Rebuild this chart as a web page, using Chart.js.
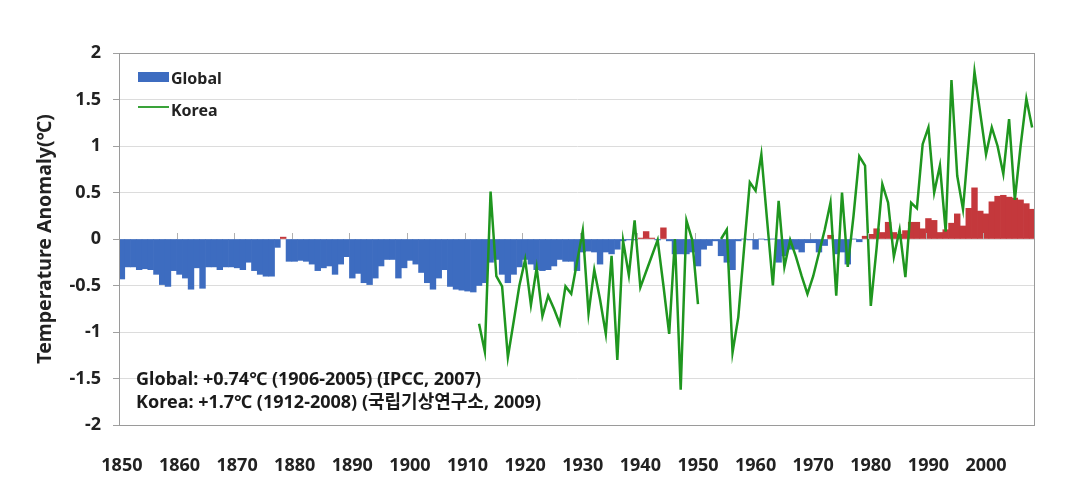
<!DOCTYPE html>
<html>
<head>
<meta charset="utf-8">
<script src="https://cdn.jsdelivr.net/npm/chart.js@4.4.1/dist/chart.umd.min.js"></script>
<style>
  body { margin: 0; background: #fff; }
  canvas { display: block; }
</style>
</head>
<body>
<canvas id="chart" width="1076" height="489"></canvas>
<script>
// years 1850..2008
var years = [];
for (var y = 1850; y <= 2008; y += 1) {
  years.push(String(y));
}

// global annual anomaly (bars)
var global_anom = [
  -0.43,-0.30,-0.30,-0.33,-0.32,-0.33,-0.38,-0.49,-0.51,-0.34, // 1850
  -0.38,-0.42,-0.54,-0.31,-0.53,-0.30,-0.30,-0.33,-0.30,-0.30, // 1860
  -0.31,-0.33,-0.25,-0.34,-0.38,-0.40,-0.40,-0.09, 0.02,-0.24, // 1870
  -0.24,-0.23,-0.24,-0.27,-0.34,-0.31,-0.29,-0.38,-0.27,-0.19, // 1880
  -0.42,-0.37,-0.47,-0.49,-0.42,-0.29,-0.22,-0.22,-0.42,-0.31, // 1890
  -0.23,-0.27,-0.36,-0.47,-0.54,-0.42,-0.33,-0.51,-0.54,-0.55, // 1900
  -0.56,-0.57,-0.50,-0.47,-0.25,-0.22,-0.38,-0.47,-0.38,-0.30, // 1910
  -0.22,-0.27,-0.33,-0.34,-0.33,-0.29,-0.22,-0.24,-0.24,-0.34, // 1920
  -0.14,-0.13,-0.14,-0.27,-0.14,-0.16,-0.11,-0.02,-0.01,-0.01, // 1930
   0.01, 0.08, 0.01,-0.01, 0.12,-0.02,-0.16,-0.16,-0.16,-0.14, // 1940
  -0.29,-0.11,-0.07,-0.02,-0.18,-0.25,-0.33,-0.02, 0.00,-0.01, // 1950
  -0.11, 0.00,-0.01, 0.00,-0.25,-0.18,-0.11,-0.11,-0.14,-0.04, // 1960
  -0.04,-0.14,-0.07, 0.04,-0.16,-0.14,-0.27, 0.00,-0.03, 0.03, // 1970
   0.05, 0.11, 0.07, 0.18, 0.07, 0.05, 0.09, 0.18, 0.18, 0.11, // 1980
   0.22, 0.20, 0.07, 0.10, 0.17, 0.27, 0.14, 0.33, 0.55, 0.30, // 1990
   0.27, 0.40, 0.46, 0.47, 0.45, 0.44, 0.42, 0.38, 0.32        // 2000
];

// Korea annual anomaly (line), 1912..2008, gap 1951-1953
var korea_start = 1912;
var korea_anom = [
  -0.91,-1.21, 0.51,-0.40,-0.51,-1.27,-0.89,-0.50,            // 1912
  -0.22,-0.71,-0.31,-0.83,-0.61,-0.75,-0.91,-0.51,-0.59,-0.25, // 1920
   0.09,-0.80,-0.33,-0.65,-1.02,-0.18,-1.30,-0.02,-0.39, 0.20, // 1930
  -0.52,-0.35,-0.18,-0.01,-0.50,-1.02, 0.00,-1.62, 0.20,-0.01, // 1940
  -0.70, null, null, null, 0.00, 0.10,-1.22,-0.84,-0.10, 0.61, // 1950
   0.52, 0.91, 0.20,-0.50, 0.41,-0.30,-0.01,-0.19,-0.40,-0.59, // 1960
  -0.40,-0.15, 0.10, 0.39,-0.61, 0.50,-0.30, 0.25, 0.89, 0.79, // 1970
  -0.72,-0.10, 0.59, 0.39,-0.19, 0.10,-0.41, 0.39, 0.33, 1.02, // 1980
   1.20, 0.50, 0.79, 0.08, 1.71, 0.68, 0.32, 1.05, 1.80, 1.35, // 1990
   0.91, 1.20, 1.00, 0.70, 1.29, 0.42, 1.00, 1.51, 1.20        // 2000
];

var y_ticks = [2, 1.5, 1, 0.5, 0, -0.5, -1, -1.5, -2];
var notes = [
  'Global: +0.74\u2103 (1906-2005) (IPCC, 2007)',
  'Korea: +1.7\u2103 (1912-2008) (\uAD6D\uB9BD\uAE30\uC0C1\uC5F0\uAD6C\uC18C, 2009)'
];

var korea_full = years.map(function(yr) {
  var k = Number(yr) - korea_start;
  return k >= 0 ? korea_anom[k] : null;
});

var blue = '#3d6cc0';
var red = '#c4383c';
var green = '#1f961f';
var font_family = "'Noto Sans', 'Noto Sans CJK KR', sans-serif";
Chart.defaults.font.family = font_family;

// box round the plot, small ticks on the zero line, legend and notes
var extras = {
  id: 'extras',
  afterDatasetsDraw: function(chart) {
    var ctx = chart.ctx;
    var a = chart.chartArea;
    var xs = chart.scales.x;
    var ys = chart.scales.y;
    ctx.save();
    // ticks on zero line every 10 years
    var y0 = ys.getPixelForValue(0);
    ctx.strokeStyle = '#b0b0b0';
    ctx.lineWidth = 1;
    for (var i = 10; i < years.length; i += 10) {
      var px = Math.round((xs.getPixelForValue(i - 1) + xs.getPixelForValue(i)) / 2) + 0.5;
      ctx.beginPath();
      ctx.moveTo(px, y0 - 6);
      ctx.lineTo(px, y0);
      ctx.stroke();
    }
    // frame
    ctx.strokeStyle = '#9a9a9a';
    ctx.strokeRect(a.left + 0.5, a.top + 0.5, a.right - a.left - 1, a.bottom - a.top);
    // legend
    var lx = a.left + 19;
    ctx.fillStyle = blue;
    ctx.fillRect(lx, a.top + 19, 31, 10);
    ctx.strokeStyle = '#3aa33a';
    ctx.lineWidth = 2;
    ctx.beginPath();
    ctx.moveTo(lx, a.top + 54);
    ctx.lineTo(lx + 31, a.top + 54);
    ctx.stroke();
    ctx.fillStyle = '#222';
    ctx.font = 'bold 16px ' + font_family;
    ctx.textBaseline = 'middle';
    ctx.fillText('Global', lx + 33, a.top + 26);
    ctx.fillText('Korea', lx + 33, a.top + 58);
    // notes
    ctx.font = 'bold 18px ' + font_family;
    ctx.fillStyle = '#1a1a1a';
    ctx.fillText(notes[0], a.left + 17, ys.getPixelForValue(-1.5) + 1);
    ctx.fillText(notes[1], a.left + 17, ys.getPixelForValue(-1.5) + 24);
    ctx.restore();
  }
};

const ctx = document.getElementById('chart').getContext('2d');

let chart = new Chart(ctx, {
  data: {
    labels: years,
    datasets: [{
      type: 'line',
      label: 'Korea',
      data: korea_full,
      borderColor: green,
      backgroundColor: green,
      borderWidth: 2.5,
      pointRadius: 0,
      spanGaps: false,
      tension: 0,
      order: 0
    }, {
      type: 'bar',
      label: 'Global',
      data: global_anom,
      backgroundColor: global_anom.map(function(v) { return v > 0 ? red : blue; }),
      borderWidth: 0,
      barPercentage: 1,
      categoryPercentage: 1,
      order: 1
    }]
  },
  options: {
    responsive: false,
    animation: false,
    devicePixelRatio: 1,
    layout: {
      padding: { left: 0, right: 41, top: 53, bottom: 0 }
    },
    plugins: {
      legend: { display: false },
      tooltip: { enabled: false }
    },
    scales: {
      x: {
        grid: { display: false, drawTicks: false },
        border: { display: false },
        ticks: {
          autoSkip: false,
          maxRotation: 0,
          minRotation: 0,
          padding: 30,
          color: '#222',
          font: { size: 18, weight: 'bold' },
          callback: function(val, i) {
            return Number(years[i]) % 10 === 0 ? years[i] : '';
          }
        },
        afterFit: function(s) { s.height = 64; }
      },
      y: {
        min: -2,
        max: 2,
        afterBuildTicks: function(s) {
          s.ticks = y_ticks.map(function(v) { return { value: v }; });
        },
        grid: {
          color: '#dcdcdc',
          tickColor: '#a0a0a0',
          tickLength: 6
        },
        border: { display: true, color: '#a0a0a0' },
        ticks: {
          color: '#222',
          padding: 12,
          font: { size: 18, weight: 'bold' },
          callback: function(v) { return String(v); }
        },
        title: {
          display: true,
          text: 'Temperature Anomaly(\u2103)',
          color: '#222',
          padding: { top: 34, bottom: 0 },
          font: { size: 19.5, weight: 'bold' }
        },
        afterFit: function(s) { s.width = 119; }
      }
    }
  },
  plugins: [extras]
});
</script>
</body>
</html>
